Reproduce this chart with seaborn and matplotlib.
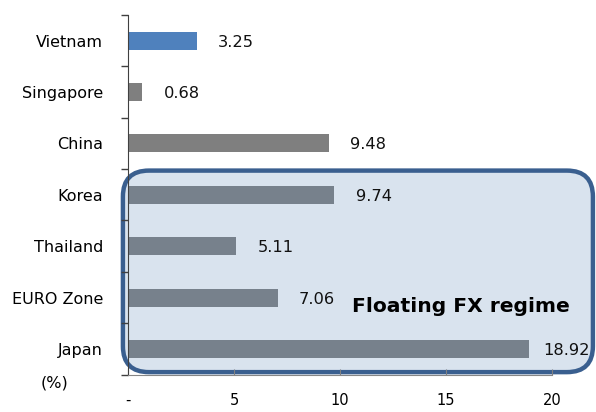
import numpy as np
import pandas as pd
import matplotlib
matplotlib.use("Agg")
import matplotlib.pyplot as plt
import seaborn as sns
from matplotlib.patches import FancyBboxPatch
from matplotlib.transforms import IdentityTransform
from matplotlib.ticker import FixedLocator

categories = ["Vietnam", "Singapore", "China", "Korea", "Thailand", "EURO Zone", "Japan"]
values = [3.25, 0.68, 9.48, 9.74, 5.11, 7.06, 18.92]
bar_colors = ["#4F81BD", "#7F7F7F", "#7F7F7F", "#77818C", "#77818C", "#77818C", "#77818C"]
x_ticks = [0, 5, 10, 15, 20]
x_tick_labels = ["-", "5", "10", "15", "20"]
box_label = "Floating FX regime"
unit_label = "(%)"

sns.set_style("white")
plt.rcParams["font.family"] = ["DejaVu Sans"]
plt.rcParams["text.color"] = "#000000"
plt.rcParams["xtick.color"] = "#000000"
plt.rcParams["ytick.color"] = "#000000"
plt.rcParams["axes.labelcolor"] = "#000000"

df = pd.DataFrame({"country": categories, "value": values})

fig = plt.figure(figsize=(5.96, 4.12), dpi=100)
ax = fig.add_axes([128/596, 1-374.7/412, (552-128)/596, (374.7-14.8)/412])

sns.barplot(data=df, x="value", y="country", hue="country", palette=bar_colors,
            orient="h", width=0.35, legend=False, ax=ax, saturation=1, zorder=2,
            linewidth=0, edgecolor="none")

ax.set_xlim(0, 20)
ax.set_ylim(len(categories) - 0.5, -0.5)
ax.set_xlabel("")
ax.set_ylabel("")
ax.set_axisbelow(True)

ax.set_xticks(x_ticks)
ax.set_xticklabels(x_tick_labels, fontsize=10.5)
ax.tick_params(axis="x", bottom=True, direction="in", length=4, color="#808080",
               labelcolor="#000000", pad=13)
ax.tick_params(axis="y", which="major", left=True, length=0, pad=18, labelsize=11.5,
               labelcolor="#000000")
ax.yaxis.set_minor_locator(FixedLocator(np.arange(-0.5, len(categories), 1.0)))
ax.tick_params(axis="y", which="minor", left=True, direction="out", length=5,
               width=1, color="#404040")

for s in ["top", "right"]:
    ax.spines[s].set_visible(False)
ax.spines["left"].set_color("#404040")
ax.spines["bottom"].set_color("#868686")
ax.spines["left"].set_zorder(3)
ax.spines["bottom"].set_zorder(3)

# value labels
label_x = np.minimum(np.array(values) + 1.0, 19.6)
for i, (lx, v) in enumerate(zip(label_x, values)):
    ax.text(lx, i + 0.03, f"{v:.2f}", va="center", ha="left", fontsize=11.7,
            color="#111111", zorder=4)

# rounded highlight box around floating regime group
(x0, y0) = ax.transData.transform((-0.24, 6.45))
(x1, y1) = ax.transData.transform((21.93, 2.53))
box = FancyBboxPatch((x0, y0), x1 - x0, y1 - y0,
                     boxstyle="round,pad=0,rounding_size=26",
                     transform=IdentityTransform(), facecolor="#D9E3EE",
                     edgecolor="#3A5F8F", linewidth=3.2, clip_on=False, zorder=0.3)
ax.add_artist(box)

ax.text(10.57, 5.18, box_label, fontsize=14.6, fontweight="bold", ha="left",
        va="center", color="#000000", zorder=4)

fig.text(55/596, 1-383/412, unit_label, fontsize=11.5, ha="center", va="center",
         color="#000000")

fig.savefig("out.png", dpi=100)
